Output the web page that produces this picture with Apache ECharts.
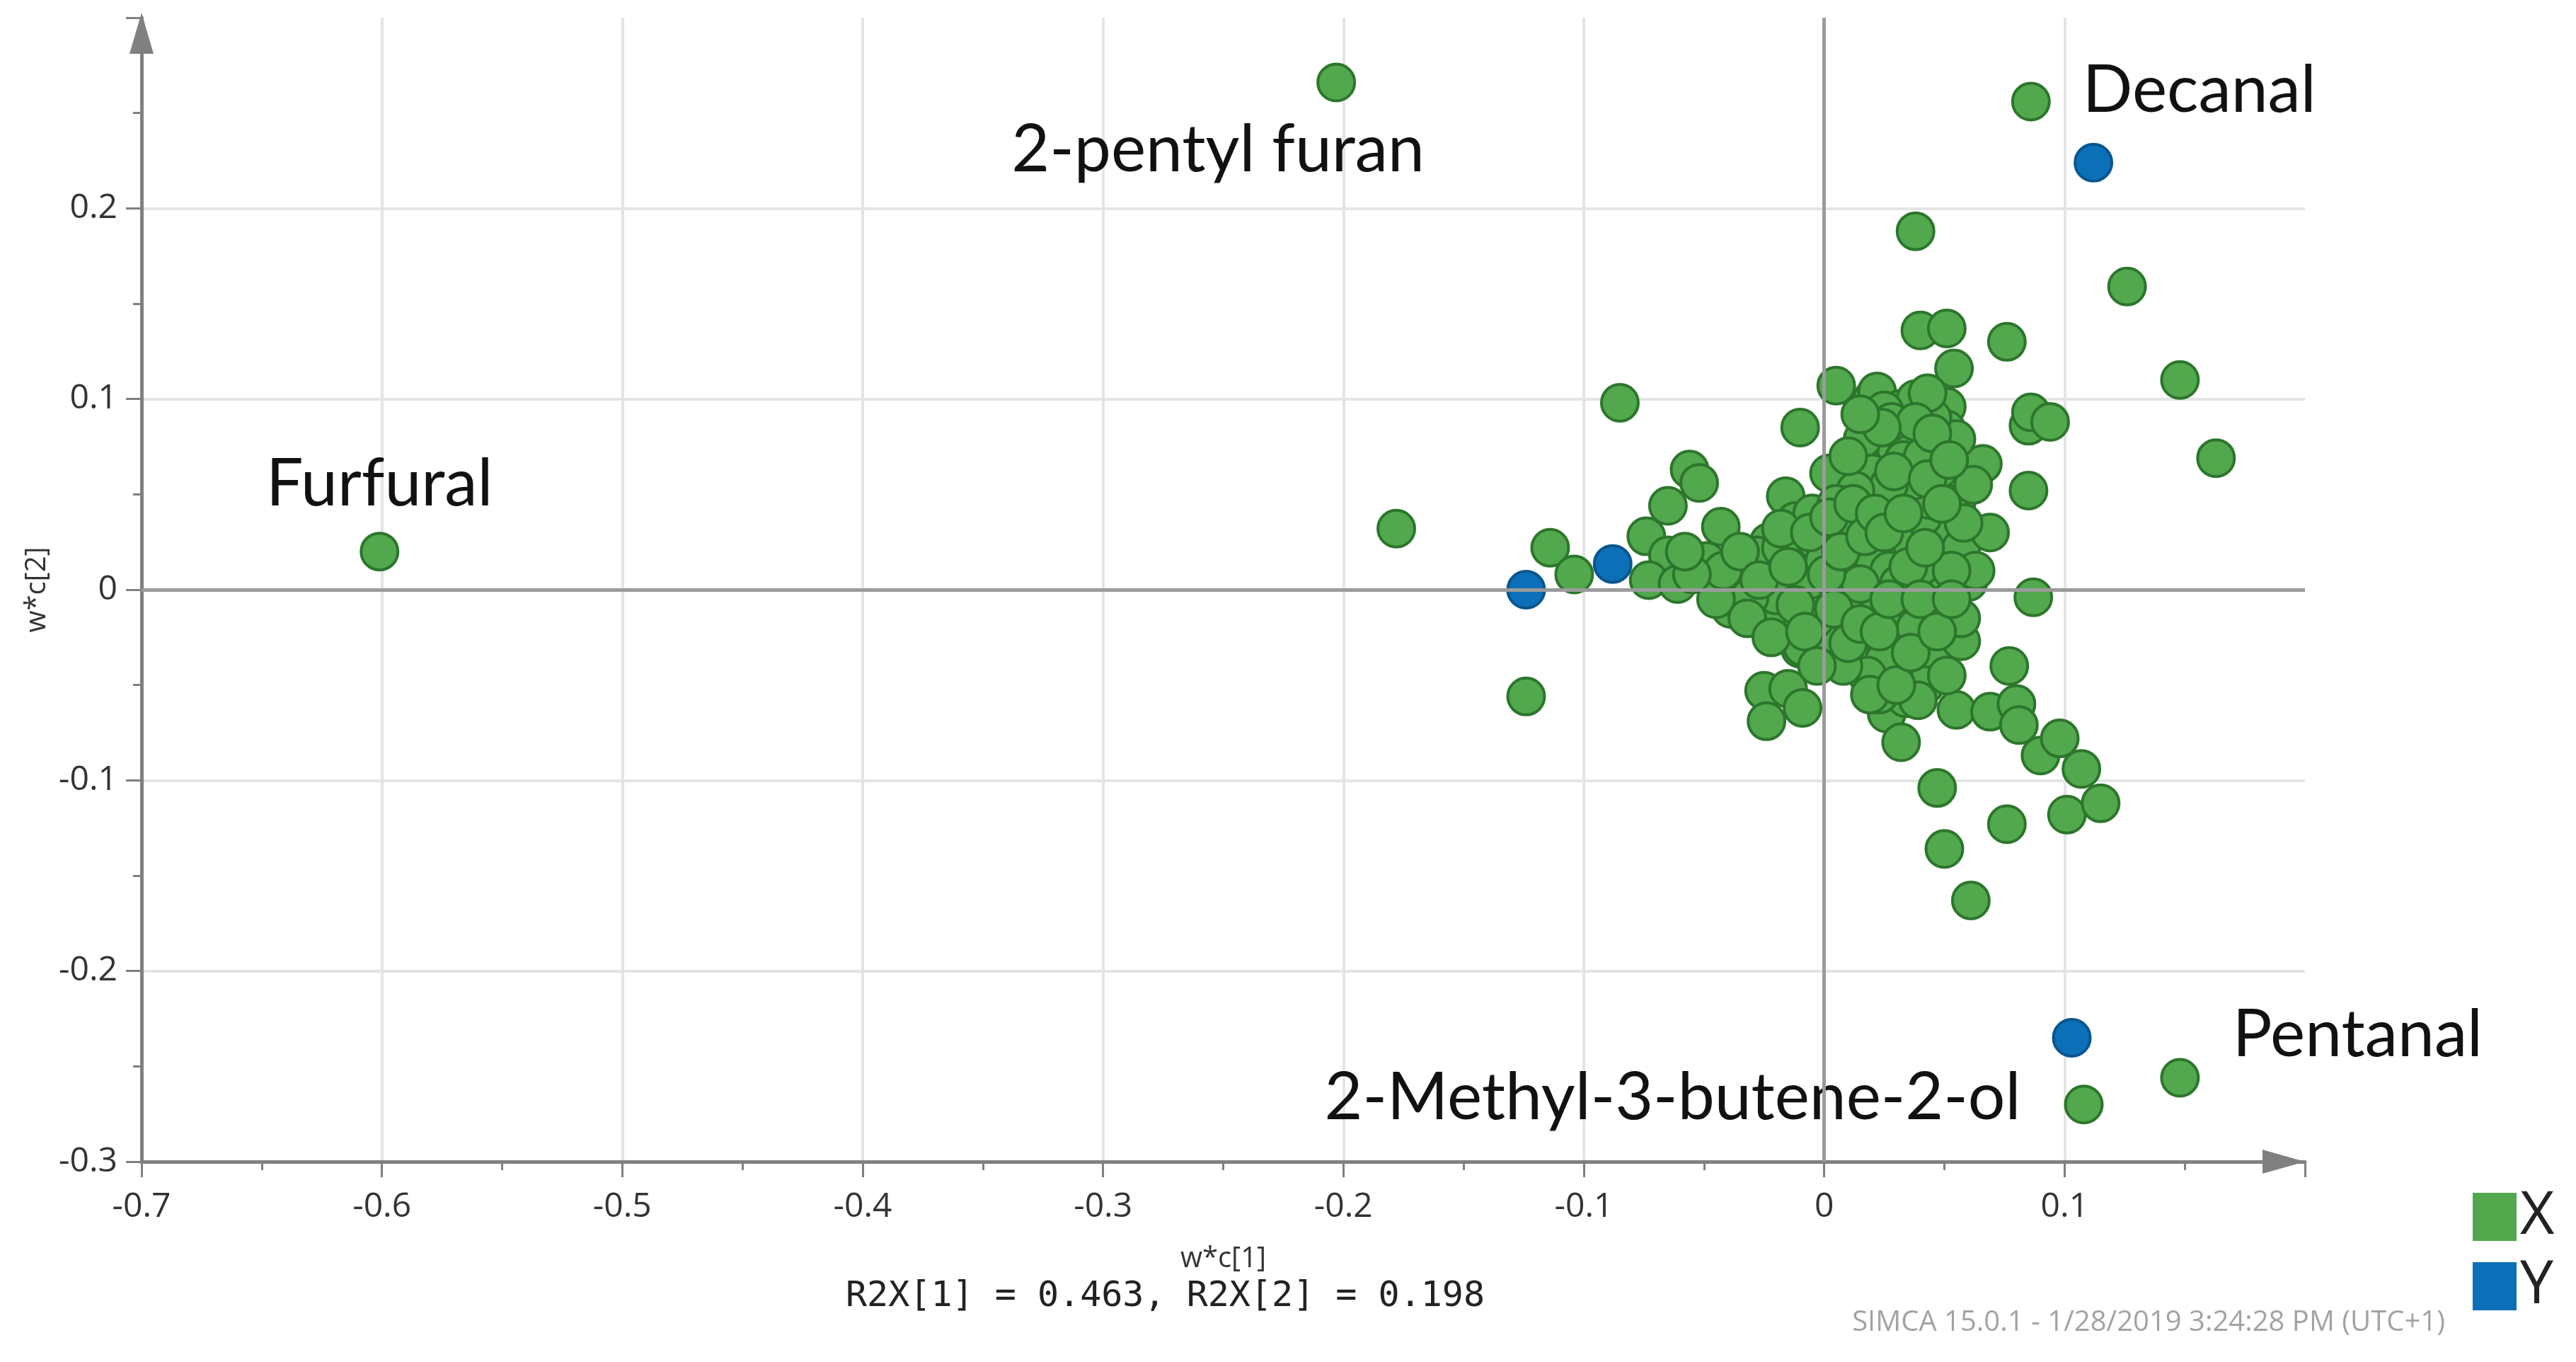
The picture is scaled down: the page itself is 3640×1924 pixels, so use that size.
<!DOCTYPE html>
<html>
<head>
<meta charset="utf-8">
<title>Loading plot w*c[1] / w*c[2]</title>
<script src="https://cdn.jsdelivr.net/npm/echarts@6/dist/echarts.min.js"></script>
<style>
  html, body { margin: 0; padding: 0; background: #fff; }
  #chart { width: 3640px; height: 1924px; }
</style>
</head>
<body>
<div id="chart"></div>
<script>
// axis ranges (w*c[1] on x, w*c[2] on y)
var xMin = -0.7, xMax = 0.2, yMin = -0.3, yMax = 0.3, step = 0.1;

// X variables (green)
var xVarPoints = [
  [-0.178, 0.032], [-0.114, 0.022], [-0.104, 0.008], [-0.124, -0.056], [-0.085, 0.098],
  [-0.074, 0.028], [-0.065, 0.044], [-0.056, 0.063], [-0.052, 0.056], [-0.043, 0.033],
  [-0.065, 0.018], [-0.073, 0.005], [-0.061, 0.003], [-0.049, 0.015], [-0.047, 0.005],
  [-0.040, 0.002], [-0.037, -0.008], [-0.036, -0.011], [-0.034, 0.004], [-0.030, 0.012],
  [-0.025, -0.008], [-0.023, 0.025], [-0.020, 0.010], [-0.017, -0.013], [-0.016, 0.049],
  [-0.014, 0.000], [-0.013, -0.020], [-0.012, 0.036], [-0.010, -0.031], [-0.010, 0.085],
  [-0.008, 0.015], [-0.005, 0.040], [-0.003, 0.025], [-0.002, -0.008], [0.002, 0.061],
  [0.004, 0.000], [0.003, -0.032], [0.005, 0.107], [0.006, -0.020], [0.008, 0.012],
  [0.009, 0.025], [0.011, 0.028], [0.012, -0.008], [0.014, -0.024], [0.016, 0.010],
  [0.017, 0.078], [0.018, -0.032], [0.018, 0.064], [0.020, 0.100], [0.022, 0.073],
  [0.022, 0.104], [0.023, 0.047], [0.024, 0.005], [0.026, -0.046], [0.026, -0.065],
  [0.030, 0.073], [0.030, 0.036], [0.031, 0.020], [0.031, -0.029], [0.032, 0.095],
  [0.032, -0.080], [0.033, -0.027], [0.034, 0.079], [0.034, 0.064], [0.034, -0.040],
  [0.034, -0.057], [0.036, 0.048], [0.038, 0.188], [0.038, 0.100], [0.040, 0.136],
  [0.039, -0.045], [0.044, 0.001], [0.045, -0.010], [0.046, 0.064], [0.047, -0.033],
  [0.047, -0.104], [0.048, 0.015], [0.048, 0.027], [0.049, 0.031], [0.050, -0.136],
  [0.051, 0.137], [0.051, 0.096], [0.054, 0.116], [0.055, -0.063], [0.057, -0.027],
  [0.057, 0.022], [0.060, 0.004], [0.061, -0.163], [0.063, 0.010], [0.066, 0.066],
  [0.069, 0.030], [0.069, -0.064], [0.076, 0.130], [0.076, -0.123], [0.077, -0.040],
  [0.080, -0.060], [0.081, -0.071], [0.085, 0.086], [0.086, 0.093], [0.094, 0.088],
  [0.085, 0.052], [0.087, -0.004], [0.090, -0.087], [0.098, -0.078], [0.101, -0.118],
  [0.107, -0.094], [0.115, -0.112], [0.126, 0.159], [0.148, 0.110], [0.163, 0.069],
  [0.025, 0.094], [0.035, 0.081], [0.051, 0.084], [0.016, 0.079], [0.046, 0.076],
  [0.055, 0.079], [0.033, 0.068], [0.048, 0.063], [0.020, 0.061], [0.040, 0.051],
  [-0.009, -0.030], [0.014, -0.039], [0.003, -0.024], [-0.024, -0.017], [-0.039, -0.010],
  [0.025, -0.037], [-0.025, -0.053], [-0.015, -0.052], [-0.009, -0.062], [-0.024, -0.069],
  [-0.028, 0.018], [-0.018, 0.022], [-0.006, 0.005], [0.000, 0.015], [0.006, 0.030],
  [0.014, 0.035], [0.020, 0.018], [0.027, 0.010], [0.036, 0.025], [0.040, 0.012],
  [0.041, 0.038], [0.044, 0.047], [0.020, -0.008], [0.028, -0.015], [0.038, -0.020],
  [0.010, -0.014], [-0.004, -0.016], [-0.020, -0.003], [-0.031, -0.004], [0.015, 0.003],
  [0.031, 0.003], [0.037, 0.057], [0.027, 0.055], [0.042, -0.050], [0.039, -0.058],
  [0.023, -0.055], [0.018, -0.045], [0.008, -0.040], [0.013, 0.052], [0.005, 0.045],
  [0.055, 0.045], [0.058, 0.035], [0.053, 0.010], [0.051, -0.045], [0.057, -0.015],
  [0.062, 0.055], [0.045, 0.090], [0.028, 0.088], [0.043, 0.103], [0.041, 0.070],
  [-0.045, -0.005], [-0.042, 0.010], [-0.035, 0.020], [-0.032, -0.015], [-0.027, 0.005],
  [-0.022, -0.025], [-0.018, 0.032], [-0.015, 0.012], [-0.012, -0.008], [-0.008, -0.022],
  [-0.006, 0.030], [-0.003, -0.040], [0.001, 0.008], [0.002, 0.038], [0.004, -0.010],
  [0.007, 0.020], [0.010, -0.028], [0.012, 0.045], [0.015, -0.018], [0.017, 0.028],
  [0.019, -0.055], [0.021, 0.040], [0.023, -0.022], [0.025, 0.030], [0.027, -0.005],
  [0.029, 0.062], [0.030, -0.050], [0.033, 0.040], [0.035, 0.012], [0.036, -0.033],
  [0.038, 0.088], [0.040, -0.005], [0.042, 0.022], [0.043, 0.058], [0.045, 0.082],
  [0.047, -0.022], [0.049, 0.045], [0.052, 0.068], [0.053, -0.005], [0.024, 0.085],
  [0.015, 0.092], [0.010, 0.070], [-0.055, 0.008], [-0.058, 0.020]
];

// named X variables
var labelNames = ['Furfural', '2-pentyl furan', 'Decanal', 'Pentanal', '2-Methyl-3-butene-2-ol'];
var labelPoints = [[-0.601, 0.020], [-0.203, 0.266], [0.086, 0.256], [0.148, -0.256], [0.108, -0.270]];

// Y variables (blue)
var yVarPoints = [[0.112, 0.224], [0.103, -0.235], [-0.124, 0.000], [-0.088, 0.0135]];

var r2xText = 'R2X[1] = 0.463, R2X[2] = 0.198';
var footerText = 'SIMCA 15.0.1 - 1/28/2019 3:24:28 PM (UTC+1)';

var green = '#52a84c', greenBorder = '#2c762c';
var blue = '#0b70b8', blueBorder = '#0a5590';
var axisGray = '#808080';

// text offsets for the named points (pixels from the marker centre)
var labelOffsets = {
  'Furfural': [0, -95],
  '2-pentyl furan': [-167, 95],
  'Decanal': [238, -16],
  'Pentanal': [251, -60],
  '2-Methyl-3-butene-2-ol': [-581, -9]
};

var xData = xVarPoints.map(function(p) { return p; });
labelNames.forEach(function(name, i) {
  xData.push({
    name: name,
    value: labelPoints[i],
    label: {
      show: true,
      position: 'inside',
      formatter: name,
      offset: labelOffsets[name],
      fontFamily: 'Lato',
      fontSize: 93,
      color: '#111'
    }
  });
});

function fmt(v) { return String(+v.toFixed(1)); }

var myChart = echarts.init(document.getElementById('chart'));
myChart.setOption({
  backgroundColor: '#fff',
  animation: false,
  title: [
    {
      text: r2xText,
      left: 1190,
      top: 1802,
      textStyle: { fontFamily: 'DejaVu Sans Mono', fontSize: 50, fontWeight: 'normal', color: '#222' }
    },
    {
      text: footerText,
      right: 180,
      top: 1844,
      textStyle: { fontFamily: 'Open Sans', fontSize: 40, fontWeight: 'normal', color: '#a3a3a3' }
    }
  ],
  legend: {
    data: ['X', 'Y'],
    orient: 'vertical',
    left: 3494,
    top: 1677,
    padding: 0,
    itemWidth: 62,
    itemHeight: 68,
    itemGap: 14,
    icon: 'rect',
    itemStyle: { borderWidth: 0 },
    textStyle: { fontFamily: 'Open Sans', fontSize: 84, lineHeight: 68, color: '#222' }
  },
  grid: { left: 200, right: 383, top: 25, bottom: 283 },
  xAxis: {
    type: 'value',
    min: xMin,
    max: xMax,
    interval: step,
    name: 'w*c[1]',
    nameLocation: 'middle',
    nameGap: 118,
    nameTextStyle: { fontFamily: 'Open Sans', fontSize: 40, color: '#333' },
    axisLine: {
      show: true,
      onZero: false,
      symbol: ['none', 'triangle'],
      symbolSize: [34, 60],
      symbolOffset: [0, -30],
      lineStyle: { color: axisGray, width: 5 }
    },
    axisTick: { show: true, length: 22, lineStyle: { color: axisGray, width: 3 } },
    minorTick: { show: true, splitNumber: 2, length: 12, lineStyle: { color: axisGray, width: 3 } },
    axisLabel: { fontFamily: 'Open Sans', fontSize: 48, color: '#333', margin: 40, showMaxLabel: false, formatter: fmt },
    splitLine: { show: true, showMinLine: false, showMaxLine: false, lineStyle: { color: '#e4e4e4', width: 4 } }
  },
  yAxis: {
    type: 'value',
    min: yMin,
    max: yMax,
    interval: step,
    name: 'w*c[2]',
    nameLocation: 'middle',
    nameGap: 110,
    nameTextStyle: { fontFamily: 'Open Sans', fontSize: 40, color: '#333' },
    axisLine: {
      show: true,
      onZero: false,
      symbol: ['none', 'triangle'],
      symbolSize: [34, 58],
      symbolOffset: [0, -22],
      lineStyle: { color: axisGray, width: 5 }
    },
    axisTick: { show: true, length: 22, lineStyle: { color: axisGray, width: 3 } },
    minorTick: { show: true, splitNumber: 2, length: 12, lineStyle: { color: axisGray, width: 3 } },
    axisLabel: { fontFamily: 'Open Sans', fontSize: 48, color: '#333', margin: 34, showMaxLabel: false, formatter: fmt },
    splitLine: { show: true, showMinLine: false, showMaxLine: false, lineStyle: { color: '#e4e4e4', width: 4 } }
  },
  series: [
    {
      // zero lines through the origin
      name: 'zero',
      type: 'scatter',
      data: [],
      z: 1,
      silent: true,
      markLine: {
        silent: true,
        symbol: 'none',
        animation: false,
        label: { show: false },
        lineStyle: { color: '#9b9b9b', width: 5, type: 'solid' },
        data: [{ xAxis: 0 }, { yAxis: 0 }]
      }
    },
    {
      name: 'X',
      type: 'scatter',
      z: 3,
      symbol: 'circle',
      symbolSize: 52,
      itemStyle: { color: green, borderColor: greenBorder, borderWidth: 4, opacity: 1 },
      data: xData
    },
    {
      name: 'Y',
      type: 'scatter',
      z: 4,
      symbol: 'circle',
      symbolSize: 52,
      itemStyle: { color: blue, borderColor: blueBorder, borderWidth: 4, opacity: 1 },
      data: yVarPoints
    }
  ]
});
</script>
</body>
</html>
